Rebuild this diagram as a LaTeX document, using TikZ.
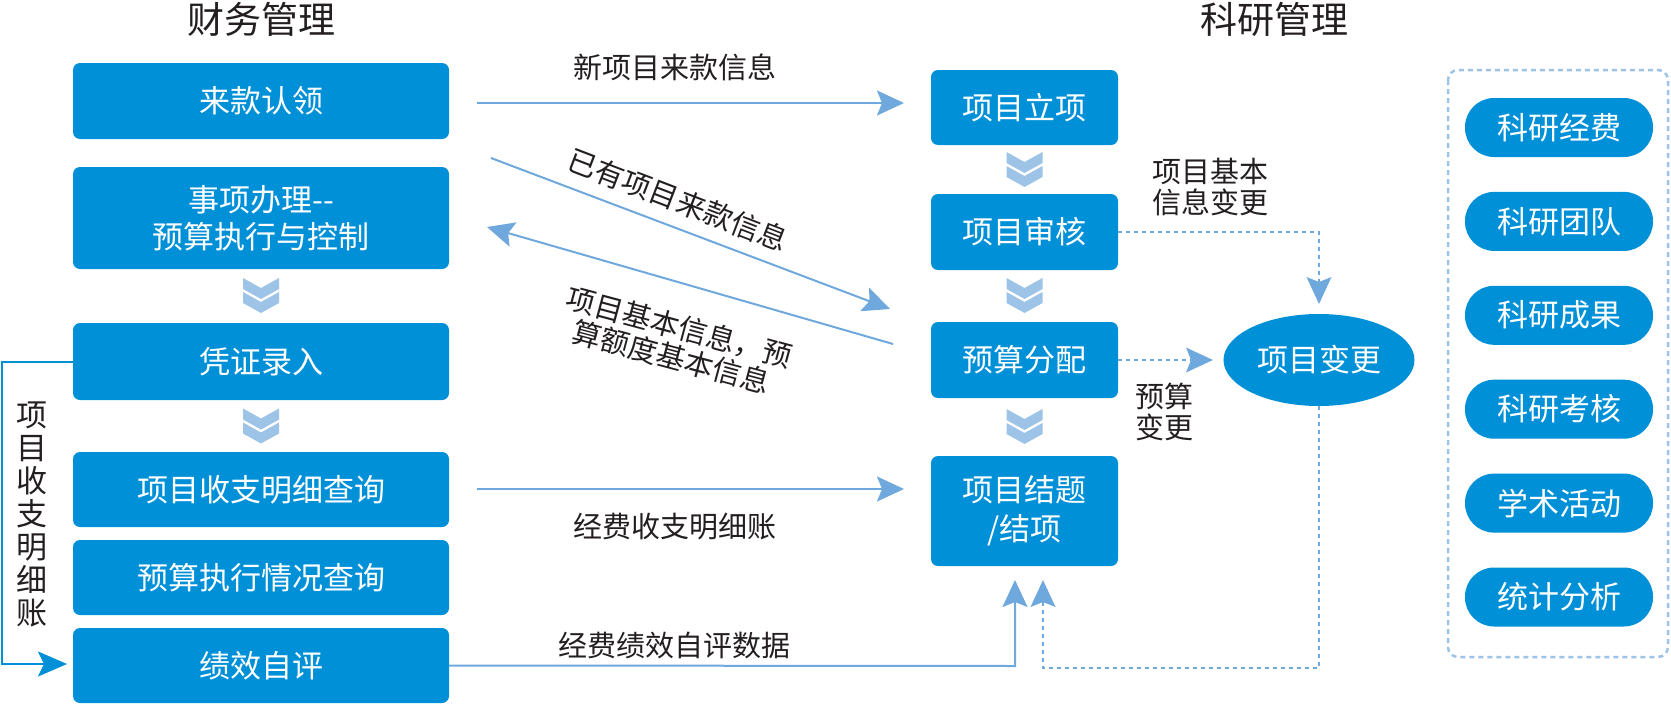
\documentclass[tikz,border=0pt]{standalone}
\usepackage{fontspec}
\setmainfont{Noto Sans CJK SC}
\usetikzlibrary{arrows.meta,shapes.geometric}
\definecolor{boxblue}{HTML}{0090D7}
\definecolor{arrowblue}{HTML}{6FA8DC}
\definecolor{chevblue}{HTML}{9DC3E6}
\definecolor{textgray}{HTML}{231F20}
\tikzset{
  fbox/.style={fill=boxblue, text=white, rounded corners=7pt, inner sep=0pt,
    minimum width=376pt, align=center, font=\fontsize{31}{37}\selectfont},
  kbox/.style={fill=boxblue, text=white, rounded corners=7pt, inner sep=0pt,
    minimum width=187pt, align=center, font=\fontsize{31}{39}\selectfont},
  pill/.style={fill=boxblue, text=white, rounded corners=29pt, inner sep=0pt,
    minimum width=188pt, minimum height=59pt, font=\fontsize{31}{37}\selectfont},
  lbl/.style={text=textgray, inner sep=0pt, font=\fontsize{29}{31}\selectfont},
  ttl/.style={text=textgray, inner sep=0pt, font=\fontsize{37}{40}\selectfont},
  arr/.style={draw=arrowblue, line width=2pt,
    -{Stealth[length=27pt, width=25pt, inset=5pt]}},
  darr/.style={draw=arrowblue, line width=2.5pt, dash pattern=on 4pt off 4pt,
    -{Stealth[length=27pt, width=25pt, inset=5pt, line width=0pt]}},
  chev/.pic={
    \fill[chevblue] (-18,0) -- (0,10) -- (18,0) -- (18,11) -- (0,21) -- (-18,11) -- cycle;
    \fill[chevblue] (-18,14) -- (0,24) -- (18,14) -- (18,25) -- (0,35) -- (-18,25) -- cycle;
  }
}
\begin{document}
\begin{tikzpicture}[x=1pt, y=-1pt]
\useasboundingbox (0,0) rectangle (1671,704);

% titles
\node[ttl] (t1) at (261,19) {财务管理};
\node[ttl] (t2) at (1274,19) {科研管理};

% left boxes
\node[fbox, minimum height=76pt]  (lk) at (261,101)   {来款认领};
\node[fbox, minimum height=102pt] (sx) at (261,218)   {事项办理-{}-\\预算执行与控制};
\node[fbox, minimum height=77pt]  (pz) at (261,361.5) {凭证录入};
\node[fbox, minimum height=75pt]  (sz) at (261,489.5) {项目收支明细查询};
\node[fbox, minimum height=75pt]  (ys) at (261,577.5) {预算执行情况查询};
\node[fbox, minimum height=75pt]  (jx) at (261,665.5) {绩效自评};
\pic at (261,278) {chev};
\pic at (261,408.5) {chev};

% middle boxes
\node[kbox, minimum height=75pt]  (lx) at (1024.5,107.5) {项目立项};
\node[kbox, minimum height=76pt]  (sh) at (1024.5,232)   {项目审核};
\node[kbox, minimum height=76pt]  (fp) at (1024.5,360)   {预算分配};
\node[kbox, minimum height=110pt] (jt) at (1024.5,511)   {项目结题\\/结项};
\pic at (1024.5,152) {chev};
\pic at (1024.5,278) {chev};
\pic at (1024.5,409) {chev};

% ellipse
\node[ellipse, fill=boxblue, text=white, minimum width=191pt, minimum height=92pt,
  inner sep=0pt, font=\fontsize{31}{37}\selectfont] (ev) at (1319,360) {项目变更};

% right dashed panel and pills
\draw[chevblue, line width=2.5pt, dash pattern=on 5pt off 4pt, rounded corners=10pt]
  (1448,70) rectangle (1668,657);
\node[pill] (p1) at (1559,127.5) {科研经费};
\node[pill] (p2) at (1559,221.4) {科研团队};
\node[pill] (p3) at (1559,315.3) {科研成果};
\node[pill] (p4) at (1559,409.2) {科研考核};
\node[pill] (p5) at (1559,503.1) {学术活动};
\node[pill] (p6) at (1559,597)   {统计分析};

% connector coordinates
\coordinate (a1s) at (477,103);
\coordinate (a1e) at (904,103);
\coordinate (a2s) at (491,158);
\coordinate (a2e) at (890,309);
\coordinate (a3s) at (893,344);
\coordinate (a3e) at (487,227);
\coordinate (a4s) at (477,489);
\coordinate (a4e) at (904,489);
\coordinate (a5c) at (1015,666);
\coordinate (a5e) at (1015,580);
\coordinate (d1c) at (1319,232);
\coordinate (d1e) at (1319,304);
\coordinate (d2e) at (1213,360);
\coordinate (d3a) at (1319,668);
\coordinate (d3b) at (1043,668);
\coordinate (d3e) at (1043,580);
\coordinate (l1) at (2,361.5);
\coordinate (l2) at (2,664);
\coordinate (l3) at (67,664);

% connectors
\draw[arr] (a1s) -- (a1e);
\draw[arr] (a2s) -- (a2e);
\draw[arr] (a3s) -- (a3e);
\draw[arr] (a4s) -- (a4e);
\draw[arr] (jx.east) -- (a5c) -- (a5e);
\draw[darr] (sh.east) -- (d1c) -- (d1e);
\draw[darr] (fp.east) -- (d2e);
\draw[darr] (ev.south) -- (d3a) -- (d3b) -- (d3e);
\draw[draw=boxblue, line width=2pt, -{Stealth[length=29pt, width=25pt, inset=6pt]}]
  (pz.west) -- (l1) -- (l2) -- (l3);

% labels
\node[lbl] (n1) at (675,67) {新项目来款信息};
\node[lbl, rotate=-21] (n2) at (678,200) {已有项目来款信息};
\node[lbl, rotate=-15, align=center] (n3) at (675,342) {项目基本信息，预\\算额度基本信息};
\node[lbl] (n4) at (675,527) {经费收支明细账};
\node[lbl] (n5) at (674,645) {经费绩效自评数据};
\node[lbl, align=left] (n6) at (1210,187) {项目基本\\信息变更};
\node[lbl, align=left] (n7) at (1164,412) {预算\\变更};
\node[text=textgray, inner sep=0pt, align=center,
  font=\fontsize{31}{33}\selectfont] (n8) at (32,514) {项\\目\\收\\支\\明\\细\\账};
\end{tikzpicture}
\end{document}
